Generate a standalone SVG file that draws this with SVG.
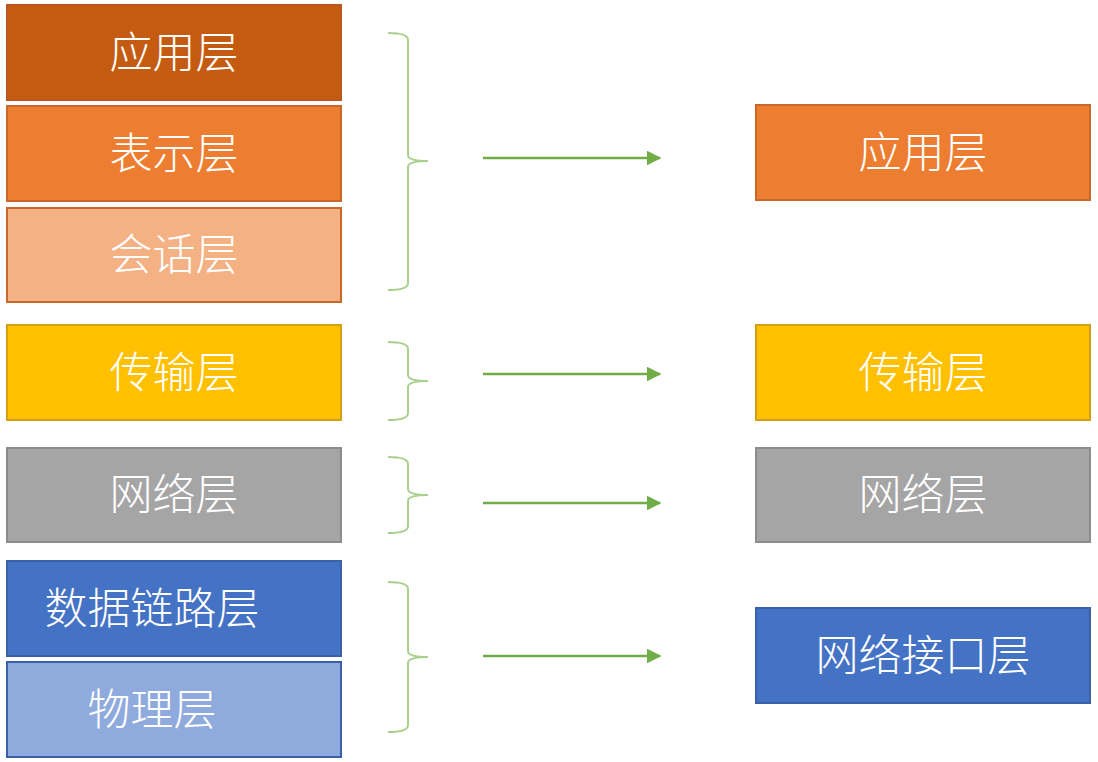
<svg xmlns="http://www.w3.org/2000/svg" width="1098" height="762" viewBox="0 0 1098 762">
<defs>
<style>
.box{stroke-width:2}
.t{font-family:"Noto Sans CJK SC","Noto Sans",sans-serif;font-size:43px;font-weight:300;fill:#ffffff;text-anchor:middle}
.brace{fill:none;stroke:#A9D18E;stroke-width:2}
.arr{fill:none;stroke:#70AD47;stroke-width:2.5}
</style>
<marker id="ah" viewBox="0 0 10 10" refX="9" refY="5" markerWidth="6" markerHeight="6" markerUnits="strokeWidth" orient="auto">
<path d="M0,0 L10,5 L0,10 Z" fill="#70AD47"/>
</marker>
</defs>
<rect width="1098" height="762" fill="#ffffff"/>
<g id="l-app"><rect class="box" x="7" y="5" width="334" height="95" fill="#C55A11" stroke="#B85A1F"/><text class="t" x="174" y="68">应用层</text></g>
<g id="l-pres"><rect class="box" x="7" y="106" width="334" height="95" fill="#ED7D31" stroke="#C8692A"/><text class="t" x="174" y="169">表示层</text></g>
<g id="l-sess"><rect class="box" x="7" y="208" width="334" height="94" fill="#F4B183" stroke="#C8692A"/><text class="t" x="174" y="270">会话层</text></g>
<g id="l-trans"><rect class="box" x="7" y="325" width="334" height="95" fill="#FFC000" stroke="#D4A017"/><text class="t" x="174" y="388">传输层</text></g>
<g id="l-net"><rect class="box" x="7" y="448" width="334" height="94" fill="#A5A5A5" stroke="#8C8C8C"/><text class="t" x="174" y="510">网络层</text></g>
<g id="l-link"><rect class="box" x="7" y="561" width="334" height="95" fill="#4472C4" stroke="#3A61A8"/><text class="t" x="152" y="624">数据链路层</text></g>
<g id="l-phys"><rect class="box" x="7" y="662" width="334" height="95" fill="#8FAADC" stroke="#3A61A8"/><text class="t" x="152" y="725">物理层</text></g>
<g id="r-app"><rect class="box" x="756" y="105" width="334" height="95" fill="#ED7D31" stroke="#C8692A"/><text class="t" x="923" y="168">应用层</text></g>
<g id="r-trans"><rect class="box" x="756" y="325" width="334" height="95" fill="#FFC000" stroke="#D4A017"/><text class="t" x="923" y="388">传输层</text></g>
<g id="r-net"><rect class="box" x="756" y="448" width="334" height="94" fill="#A5A5A5" stroke="#8C8C8C"/><text class="t" x="923" y="510">网络层</text></g>
<g id="r-iface"><rect class="box" x="756" y="608" width="334" height="95" fill="#4472C4" stroke="#3A61A8"/><text class="t" x="923" y="671">网络接口层</text></g>
<g id="connectors">
<path class="brace" d="M388,33 Q408,33 408,40 L408,155 Q408,161 428,161 Q408,161 408,167 L408,283 Q408,290 388,290"/>
<path class="brace" d="M388,342 Q408,342 408,349 L408,375 Q408,381 428,381 Q408,381 408,387 L408,413 Q408,420 388,420"/>
<path class="brace" d="M388,457 Q408,457 408,464 L408,489 Q408,495 428,495 Q408,495 408,501 L408,526 Q408,533 388,533"/>
<path class="brace" d="M388,582 Q408,582 408,589 L408,651 Q408,657 428,657 Q408,657 408,663 L408,725 Q408,732 388,732"/>
<path class="arr" d="M483,158 L660,158" marker-end="url(#ah)"/>
<path class="arr" d="M483,374 L660,374" marker-end="url(#ah)"/>
<path class="arr" d="M483,503 L660,503" marker-end="url(#ah)"/>
<path class="arr" d="M483,656 L660,656" marker-end="url(#ah)"/>
</g>
</svg>
